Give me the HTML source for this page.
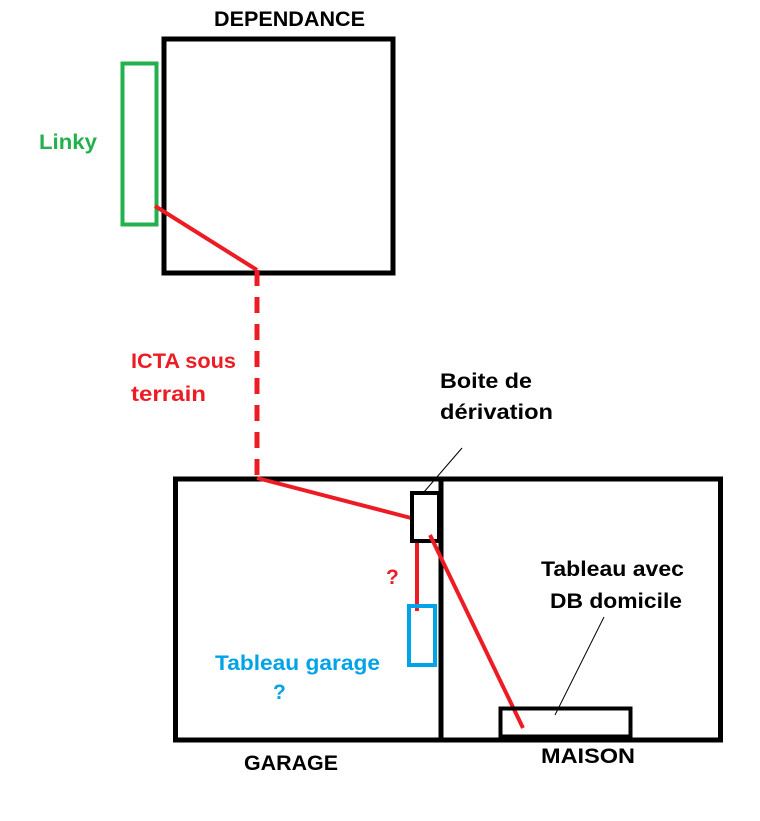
<!DOCTYPE html>
<html><head><meta charset="utf-8"><style>
html,body{margin:0;padding:0;background:#fff;}
svg{display:block;}
text{font-family:"Liberation Sans",Arial,sans-serif;font-weight:bold;font-size:21px;}
</style></head><body>
<svg width="760" height="821" viewBox="0 0 760 821" xmlns="http://www.w3.org/2000/svg">
<rect width="760" height="821" fill="#fff"/>
<rect x="164" y="39" width="229" height="234" fill="none" stroke="#000" stroke-width="5"/>
<rect x="122.5" y="63.5" width="34" height="161" fill="none" stroke="#22b14c" stroke-width="4"/>
<line x1="155" y1="206" x2="257" y2="270" stroke="#ed1c24" stroke-width="4"/>
<line x1="257" y1="270" x2="257" y2="478" stroke="#ed1c24" stroke-width="5" stroke-dasharray="16,11"/>
<rect x="175.5" y="479" width="545" height="261" fill="none" stroke="#000" stroke-width="5"/>
<line x1="441" y1="479" x2="441" y2="740" stroke="#000" stroke-width="5"/>
<line x1="257" y1="478" x2="411" y2="518" stroke="#ed1c24" stroke-width="4"/>
<rect x="412" y="493" width="27" height="48" fill="#fff" stroke="#000" stroke-width="4"/>
<line x1="417" y1="543" x2="417" y2="611" stroke="#ed1c24" stroke-width="4"/>
<rect x="409" y="606" width="26" height="59" fill="none" stroke="#00a2e8" stroke-width="4"/>
<line x1="430" y1="535" x2="523" y2="728" stroke="#ed1c24" stroke-width="4"/>
<rect x="500.5" y="708.5" width="130" height="28" fill="none" stroke="#000" stroke-width="4"/>
<line x1="424" y1="492" x2="462" y2="448" stroke="#000" stroke-width="1"/>
<line x1="555" y1="715" x2="604" y2="617" stroke="#000" stroke-width="1"/>
<text x="214" y="26" fill="#000" textLength="151" lengthAdjust="spacingAndGlyphs">DEPENDANCE</text>
<text x="39" y="149" fill="#22b14c" textLength="58" lengthAdjust="spacingAndGlyphs">Linky</text>
<text x="131" y="368" fill="#ed1c24" textLength="105" lengthAdjust="spacingAndGlyphs">ICTA sous</text>
<text x="131" y="401" fill="#ed1c24" textLength="75" lengthAdjust="spacingAndGlyphs">terrain</text>
<text x="440" y="388" fill="#000" textLength="92" lengthAdjust="spacingAndGlyphs">Boite de</text>
<text x="440" y="419" fill="#000" textLength="113" lengthAdjust="spacingAndGlyphs">dérivation</text>
<text x="386" y="584" fill="#ed1c24">?</text>
<text x="541" y="576" fill="#000" textLength="143" lengthAdjust="spacingAndGlyphs">Tableau avec</text>
<text x="550" y="608" fill="#000" textLength="132" lengthAdjust="spacingAndGlyphs">DB domicile</text>
<text x="215" y="670" fill="#00a2e8" textLength="165" lengthAdjust="spacingAndGlyphs">Tableau garage</text>
<text x="273" y="699" fill="#00a2e8">?</text>
<text x="244" y="770" fill="#000" textLength="94" lengthAdjust="spacingAndGlyphs">GARAGE</text>
<text x="541" y="763" fill="#000" textLength="94" lengthAdjust="spacingAndGlyphs">MAISON</text>
</svg>
</body></html>
